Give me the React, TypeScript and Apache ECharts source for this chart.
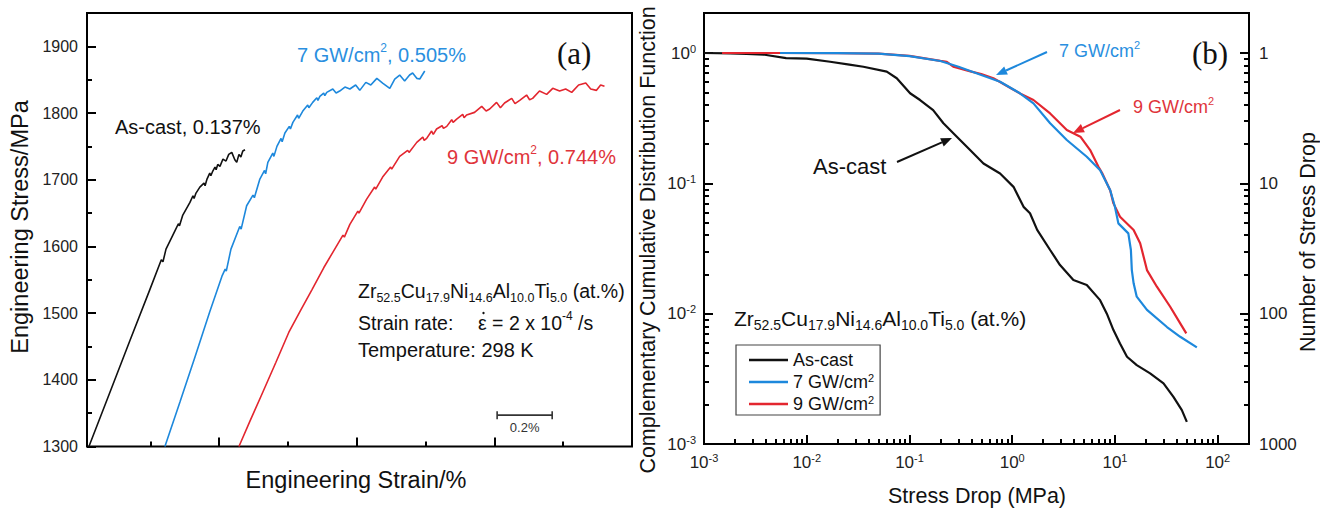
import React, { useEffect, useRef } from 'react';
import * as echarts from 'echarts';

// ---------------- Panel (a): engineering stress (MPa) vs engineering strain (%) ----------------
const asCastStressStrain: [number, number][] = [
  [0.027, 1300], [0.103, 1381], [0.176, 1459], [0.249, 1536], [0.290, 1580], [0.296, 1577], [0.307, 1596],
  [0.339, 1623], [0.352, 1634], [0.356, 1631], [0.368, 1647], [0.394, 1666], [0.405, 1676], [0.409, 1672],
  [0.416, 1680], [0.430, 1689], [0.445, 1695], [0.449, 1691], [0.456, 1701], [0.466, 1710], [0.470, 1706],
  [0.477, 1713], [0.485, 1719], [0.489, 1715], [0.495, 1723], [0.503, 1720], [0.514, 1731], [0.525, 1728],
  [0.535, 1738], [0.546, 1741], [0.557, 1730], [0.564, 1726], [0.572, 1738], [0.579, 1734], [0.586, 1743],
  [0.594, 1745],
];
const gw7StressStrain: [number, number][] = [
  [0.303, 1300], [0.358, 1367], [0.412, 1434], [0.466, 1502], [0.510, 1555], [0.522, 1566], [0.526, 1563],
  [0.543, 1596], [0.575, 1630], [0.580, 1626], [0.600, 1661], [0.623, 1677], [0.628, 1673], [0.648, 1701],
  [0.665, 1714], [0.669, 1709], [0.677, 1726], [0.695, 1740], [0.699, 1735], [0.710, 1750], [0.725, 1762],
  [0.729, 1757], [0.739, 1770], [0.755, 1780], [0.759, 1776], [0.768, 1786], [0.785, 1797], [0.789, 1792],
  [0.804, 1803], [0.822, 1812], [0.826, 1808], [0.840, 1816], [0.855, 1823], [0.859, 1819], [0.866, 1825],
  [0.880, 1830], [0.884, 1826], [0.891, 1831], [0.913, 1836], [0.925, 1830], [0.938, 1833], [0.957, 1839],
  [0.975, 1836], [0.996, 1842], [1.011, 1834], [1.033, 1846], [1.051, 1842], [1.073, 1852], [1.094, 1845],
  [1.120, 1837], [1.138, 1851], [1.156, 1857], [1.174, 1848], [1.192, 1857], [1.203, 1860], [1.218, 1852],
  [1.229, 1851], [1.247, 1863],
];
const gw9StressStrain: [number, number][] = [
  [0.572, 1300], [0.612, 1338], [0.655, 1378], [0.706, 1426], [0.753, 1471], [0.797, 1505], [0.837, 1535],
  [0.880, 1568], [0.920, 1596], [0.950, 1617], [0.955, 1614], [0.975, 1633], [1.004, 1653], [1.008, 1650],
  [1.036, 1671], [1.065, 1689], [1.069, 1686], [1.094, 1704], [1.123, 1719], [1.127, 1716], [1.156, 1735],
  [1.185, 1744], [1.190, 1741], [1.218, 1756], [1.240, 1764], [1.245, 1759], [1.254, 1762], [1.272, 1773],
  [1.278, 1768], [1.290, 1776], [1.310, 1781], [1.315, 1777], [1.327, 1780], [1.345, 1790], [1.350, 1786],
  [1.363, 1791], [1.385, 1798], [1.390, 1793], [1.399, 1797], [1.428, 1801], [1.454, 1810], [1.470, 1803],
  [1.483, 1806], [1.508, 1816], [1.522, 1808], [1.537, 1815], [1.563, 1822], [1.575, 1814], [1.592, 1819],
  [1.617, 1827], [1.628, 1820], [1.639, 1822], [1.664, 1833], [1.690, 1828], [1.712, 1837], [1.737, 1833],
  [1.759, 1836], [1.781, 1831], [1.806, 1842], [1.832, 1845], [1.850, 1836], [1.871, 1834], [1.886, 1842],
  [1.900, 1840],
];

// ---------------- Panel (b): CCDF vs stress drop (MPa) ----------------
const asCastCcdf: [number, number][] = [
  [0.001, 1.0], [0.0018, 0.995], [0.0026, 0.985], [0.0039, 0.97], [0.0063, 0.915], [0.01, 0.905],
  [0.0169, 0.857], [0.026, 0.815], [0.0356, 0.785], [0.0601, 0.719], [0.0752, 0.64], [0.1014, 0.491],
  [0.1268, 0.436], [0.17, 0.365], [0.214, 0.289], [0.289, 0.228], [0.389, 0.18], [0.525, 0.142],
  [0.762, 0.119], [1.03, 0.094], [1.29, 0.066], [1.49, 0.059], [1.75, 0.044], [2.34, 0.0308],
  [2.92, 0.0236], [3.94, 0.0181], [5.32, 0.0166], [7.17, 0.0127], [8.34, 0.01], [9.67, 0.00748],
  [11.2, 0.00591], [13.1, 0.00467], [16.3, 0.00403], [22.0, 0.00348], [29.7, 0.00292], [37.1, 0.0023],
  [44.8, 0.00182], [50.1, 0.00148],
];
const gw7Ccdf: [number, number][] = [
  [0.0055, 1.0], [0.02, 0.998], [0.05, 0.99], [0.1, 0.948], [0.2, 0.868], [0.3, 0.785], [0.5, 0.678],
  [0.762, 0.602], [1.19, 0.491], [1.61, 0.411], [2.34, 0.289], [3.4, 0.215], [5.32, 0.16], [7.18, 0.126],
  [8.98, 0.0889], [10.0, 0.0661], [10.8, 0.0493], [13.5, 0.0413], [14.3, 0.0308], [14.6, 0.0216],
  [15.2, 0.0171], [16.3, 0.0135], [20.5, 0.0107], [32.1, 0.0079], [43.2, 0.00665], [62.7, 0.00551],
];
const gw9Ccdf: [number, number][] = [
  [0.0015, 1.0], [0.005, 1.0], [0.02, 0.996], [0.05, 0.99], [0.1, 0.95], [0.2, 0.87], [0.231, 0.857],
  [0.267, 0.785], [0.4, 0.72], [0.5, 0.69], [0.656, 0.64], [0.762, 0.6], [1.0, 0.53], [1.19, 0.49],
  [1.61, 0.436], [2.34, 0.344], [3.4, 0.257], [4.61, 0.228], [5.74, 0.18], [6.91, 0.134], [7.5, 0.12],
  [9.0, 0.088], [9.67, 0.0702], [11.2, 0.0554], [15.2, 0.0438], [17.6, 0.0347], [18.3, 0.0308],
  [20.5, 0.0216], [25.6, 0.0161], [34.5, 0.0113], [43.2, 0.00843], [49.5, 0.00706],
];

// ---------------- ticks ----------------
const stressMajorTicks = [1300, 1400, 1500, 1600, 1700, 1800, 1900];
const stressMinorTicks = [1350, 1450, 1550, 1650, 1750, 1850];
const strainMajorTicks = [0.5, 1.0, 1.5];
const strainMinorTicks = [0.25, 0.75, 1.25, 1.75];
const stressDropMajorTicks = [0.001, 0.01, 0.1, 1, 10, 100];
const ccdfMajorTicks = [0.001, 0.01, 0.1, 1];
const logMinorSteps = [2, 3, 4, 5, 6, 7, 8, 9];
const seriesNames = ['As-cast', '7 GW/cm2', '9 GW/cm2'];

const stressDropMinorTicks = stressDropMajorTicks
  .slice(0, -1)
  .flatMap((d) => logMinorSteps.map((k) => Number((d * k).toPrecision(6))));
const ccdfMinorTicks = ccdfMajorTicks
  .slice(0, -1)
  .flatMap((d) => logMinorSteps.map((k) => Number((d * k).toPrecision(6))));

const FONT = '"Liberation Sans", Arial, Helvetica, sans-serif';
const SERIF = '"Liberation Serif", "Times New Roman", serif';
const BLACK = '#111111';
const BLUE = '#1d88dc';
const RED = '#e3262f';
const BLUE_T = '#2a8fe0';
const RED_T = '#e0343b';

const GA = { left: 87, top: 13, width: 545, height: 433.5 };
const GB = { left: 704, top: 13, width: 545, height: 431 };

const isPow10 = (v: number) => {
  const e = Math.log10(v);
  return Math.abs(e - Math.round(e)) < 1e-6;
};
const powLabel = (v: number) => (isPow10(v) ? `{b|10}{s|${Math.round(Math.log10(v))}}` : '');
const powRich = {
  b: { fontSize: 17, fontFamily: FONT, color: '#222', lineHeight: 20 },
  s: { fontSize: 11, fontFamily: FONT, color: '#222', verticalAlign: 'top', lineHeight: 10 },
};

const tickStyle = (values: number[], length: number) => ({
  show: true,
  inside: true,
  length,
  customValues: values,
  lineStyle: { color: '#000', width: 2 },
});
const noLine = { show: false, onZero: false };
const base = { splitLine: { show: false }, minorTick: { show: false }, axisLine: noLine };

function txt(x: number, y: number, text: string, size: number, color: string, opts: any = {}) {
  return {
    type: 'text',
    x,
    y,
    z: 20,
    silent: true,
    rotation: opts.rotation || 0,
    style: {
      text,
      fill: color,
      fontSize: size,
      fontFamily: opts.family || FONT,
      align: opts.align || 'left',
      verticalAlign: 'middle',
      lineHeight: opts.lineHeight || Math.round(size * 1.3),
      rich: opts.rich,
    },
  };
}

function supRich(size: number, color: string) {
  return { sup: { fontSize: size, fontFamily: FONT, fill: color, verticalAlign: 'top', lineHeight: Math.round(size * 1.1) } };
}

function formulaText(x: number, y: number, baseSize: number, sub: number) {
  const lh = Math.round(baseSize * 1.35);
  return {
    type: 'text',
    x,
    y,
    z: 20,
    silent: true,
    style: {
      text: '{b|Zr}{s|52.5}{b|Cu}{s|17.9}{b|Ni}{s|14.6}{b|Al}{s|10.0}{b|Ti}{s|5.0}{b| (at.%)}',
      fill: BLACK,
      fontSize: baseSize,
      fontFamily: FONT,
      align: 'left',
      verticalAlign: 'middle',
      rich: {
        b: { fontSize: baseSize, fontFamily: FONT, fill: BLACK, lineHeight: lh },
        s: { fontSize: sub, fontFamily: FONT, fill: BLACK, lineHeight: Math.round(sub * 1.05), verticalAlign: 'bottom' },
      },
    },
  };
}

function arrow(x1: number, y1: number, x2: number, y2: number, color: string) {
  const ang = Math.atan2(y2 - y1, x2 - x1);
  const L = 11;
  const W = 4.5;
  const bx = x2 - L * Math.cos(ang);
  const by = y2 - L * Math.sin(ang);
  const nx = -Math.sin(ang);
  const ny = Math.cos(ang);
  return [
    { type: 'line', z: 20, silent: true, shape: { x1, y1, x2: bx, y2: by }, style: { stroke: color, lineWidth: 2 } },
    {
      type: 'polygon',
      z: 20,
      silent: true,
      shape: { points: [[x2, y2], [bx + nx * W, by + ny * W], [bx - nx * W, by - ny * W]] },
      style: { fill: color },
    },
  ];
}

const lineSeries = (name: string, data: [number, number][], xi: number, yi: number, color: string, width: number) => ({
  type: 'line',
  name,
  data,
  xAxisIndex: xi,
  yAxisIndex: yi,
  symbol: 'none',
  showSymbol: false,
  silent: true,
  clip: true,
  lineStyle: { color, width },
  itemStyle: { color },
  emphasis: { disabled: true },
});

export default function App() {
  const ref = useRef<HTMLDivElement>(null);

  useEffect(() => {
    const chart = echarts.init(ref.current!, null, { renderer: 'svg' });
    const logX = { type: 'log', logBase: 10, gridIndex: 1, min: 0.001, max: 201.8 };
    const logY = { type: 'log', logBase: 10, gridIndex: 1, min: 0.001, max: 2.028 };
    const linX = { type: 'value', gridIndex: 0, min: 0.02, max: 2.0 };
    const linY = { type: 'value', gridIndex: 0, min: 1300, max: 1950, interval: 100 };

    const option: any = {
      animation: false,
      backgroundColor: '#ffffff',
      grid: [
        { ...GA, show: true, borderColor: '#000', borderWidth: 2, backgroundColor: 'transparent', containLabel: false, outerBoundsMode: 'none' },
        { ...GB, show: true, borderColor: '#000', borderWidth: 2, backgroundColor: 'transparent', containLabel: false, outerBoundsMode: 'none' },
      ],
      xAxis: [
        { ...linX, ...base, position: 'bottom', axisTick: tickStyle(strainMajorTicks, 9), axisLabel: { show: false } },
        {
          ...logX, ...base, position: 'bottom', axisTick: tickStyle(stressDropMajorTicks, 9),
          axisLabel: { customValues: stressDropMajorTicks, formatter: powLabel, rich: powRich, margin: 8 },
        },
        { ...linX, ...base, position: 'bottom', offset: 0, axisTick: tickStyle(strainMinorTicks, 5), axisLabel: { show: false } },
        { ...logX, ...base, position: 'bottom', offset: 0, axisTick: tickStyle(stressDropMinorTicks, 5), axisLabel: { show: false } },
      ],
      yAxis: [
        {
          ...linY, ...base, position: 'left', axisTick: tickStyle(stressMajorTicks, 9),
          axisLabel: {
            customValues: stressMajorTicks, formatter: (v: number) => String(v),
            fontSize: 16, fontFamily: FONT, color: '#222', margin: 9,
          },
        },
        {
          ...logY, ...base, position: 'left', axisTick: tickStyle(ccdfMajorTicks, 9),
          axisLabel: { customValues: ccdfMajorTicks, formatter: powLabel, rich: powRich, margin: 8 },
        },
        {
          ...logY, ...base, position: 'right', axisTick: tickStyle(ccdfMajorTicks, 9),
          axisLabel: {
            customValues: ccdfMajorTicks,
            formatter: (v: number) => String(Math.round(1 / v)),
            fontSize: 17, fontFamily: FONT, color: '#222', margin: 10,
          },
        },
        { ...linY, ...base, position: 'left', offset: 0, axisTick: tickStyle(stressMinorTicks, 5), axisLabel: { show: false } },
        { ...logY, ...base, position: 'left', offset: 0, axisTick: tickStyle(ccdfMinorTicks, 5), axisLabel: { show: false } },
        { ...logY, ...base, position: 'right', offset: 0, axisTick: tickStyle(ccdfMinorTicks, 5), axisLabel: { show: false } },
      ],
      legend: {
        data: seriesNames,
        orient: 'vertical',
        left: 736,
        top: 345,
        padding: [6, 6, 2, 13],
        itemGap: 3,
        itemWidth: 39,
        itemHeight: 2.4,
        icon: 'rect',
        borderColor: '#444',
        borderWidth: 1.2,
        backgroundColor: '#fff',
        selectedMode: false,
        formatter: (n: string) => (n === 'As-cast' ? '{n|As-cast}' : `{n|${n.slice(0, -1)}}{s|2}`),
        textStyle: {
          rich: {
            n: { fontSize: 18, fontFamily: FONT, color: BLACK, lineHeight: 20 },
            s: { fontSize: 11, fontFamily: FONT, color: BLACK, verticalAlign: 'top', lineHeight: 10 },
          },
        },
      },
      series: [
        lineSeries('a-as-cast', asCastStressStrain, 0, 0, BLACK, 1.6),
        lineSeries('a-7', gw7StressStrain, 0, 0, BLUE, 1.6),
        lineSeries('a-9', gw9StressStrain, 0, 0, RED, 1.6),
        lineSeries(seriesNames[0], asCastCcdf, 1, 1, BLACK, 2.2),
        lineSeries(seriesNames[2], gw9Ccdf, 1, 1, RED, 2.2),
        lineSeries(seriesNames[1], gw7Ccdf, 1, 1, BLUE, 2.2),
      ],
    };
    chart.setOption(option);

    const g: any[] = [];
    const px = (v: number) => chart.convertToPixel({ xAxisIndex: 0 }, v) as number;
    const py = (v: number) => chart.convertToPixel({ yAxisIndex: 0 }, v) as number;

    // scale bar (0.2 % strain)
    const sb0 = px(1.51);
    const sb1 = px(1.71);
    const sy = py(1347);
    const bar = { stroke: '#333', lineWidth: 1.6 };
    g.push({ type: 'line', z: 15, silent: true, shape: { x1: sb0, y1: sy, x2: sb1, y2: sy }, style: bar });
    g.push({ type: 'line', z: 15, silent: true, shape: { x1: sb0, y1: sy - 4, x2: sb0, y2: sy + 4 }, style: bar });
    g.push({ type: 'line', z: 15, silent: true, shape: { x1: sb1, y1: sy - 4, x2: sb1, y2: sy + 4 }, style: bar });
    g.push(txt((sb0 + sb1) / 2, sy + 12, '0.2%', 13, '#333', { align: 'center' }));

    // panel (a) annotations
    g.push(txt(115, 127, 'As-cast, 0.137%', 20, BLACK));
    g.push(txt(297, 55, '7 GW/cm{sup|2}, 0.505%', 20, BLUE_T, { rich: supRich(12, BLUE_T), lineHeight: 26 }));
    g.push(txt(447, 157, '9 GW/cm{sup|2}, 0.744%', 20, RED_T, { rich: supRich(12, RED_T), lineHeight: 26 }));
    g.push(txt(557, 53, '(a)', 31, BLACK, { family: SERIF }));
    g.push(formulaText(358, 291, 19.5, 12.5));
    g.push(txt(358, 323, 'Strain rate:', 19.5, BLACK));
    g.push(txt(478, 323, 'ε = 2 x 10{sup|-4} /s', 19.5, BLACK, { rich: supRich(12, BLACK), lineHeight: 26 }));
    g.push({ type: 'circle', z: 20, silent: true, shape: { cx: 483.5, cy: 313, r: 1.2 }, style: { fill: BLACK } });
    g.push(txt(358, 350, 'Temperature: 298 K', 20, BLACK));

    // panel (b) annotations
    g.push(txt(813, 166, 'As-cast', 22, BLACK));
    g.push(...arrow(897, 162, 952, 138, BLACK));
    g.push(txt(1059, 51, '7 GW/cm{sup|2}', 18, BLUE_T, { rich: supRich(11, BLUE_T), lineHeight: 24 }));
    g.push(...arrow(1047, 52, 996, 75, BLUE));
    g.push(txt(1133, 107, '9 GW/cm{sup|2}', 18, RED_T, { rich: supRich(11, RED_T), lineHeight: 24 }));
    g.push(...arrow(1120, 110, 1073, 133, RED));
    g.push(txt(1192, 53, '(b)', 31, BLACK, { family: SERIF }));
    g.push(formulaText(734, 318, 21, 14));

    // axis titles
    g.push(txt(20, 227, 'Engineering Stress/MPa', 23.5, BLACK, { align: 'center', rotation: Math.PI / 2 }));
    g.push(txt(356, 480, 'Engineering Strain/%', 23.5, BLACK, { align: 'center' }));
    g.push(txt(648, 240, 'Complementary Cumulative Distribution Function', 21.5, BLACK, { align: 'center', rotation: Math.PI / 2 }));
    g.push(txt(977, 496, 'Stress Drop (MPa)', 21.5, BLACK, { align: 'center' }));
    g.push(txt(1308, 242, 'Number of Stress Drop', 21.5, BLACK, { align: 'center', rotation: Math.PI / 2 }));

    chart.setOption({ graphic: g });
    return () => chart.dispose();
  }, []);

  return (
    <div
      ref={ref}
      style={{ position: 'fixed', left: 0, top: 0, width: 1320, height: 508, background: '#fff' }}
    />
  );
}
